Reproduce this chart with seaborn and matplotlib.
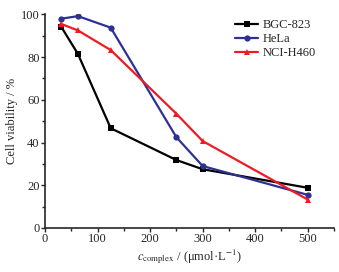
import seaborn as sns
import matplotlib.pyplot as plt
import pandas as pd
from matplotlib.ticker import MultipleLocator

conc = [31.25, 62.5, 125, 250, 300, 500]
bgc = [94.0, 81.5, 46.7, 31.8, 27.5, 18.8]
hela = [98.0, 99.2, 93.8, 42.5, 29.0, 15.5]
nci = [95.5, 92.5, 83.3, 53.5, 40.7, 13.3]
lines = ["BGC-823", "HeLa", "NCI-H460"]

df = pd.DataFrame({
    "conc": conc * 3,
    "viab": bgc + hela + nci,
    "line": [lines[0]] * 6 + [lines[1]] * 6 + [lines[2]] * 6,
})

sns.set_style("ticks")
plt.rcParams['font.family'] = ['Liberation Serif', 'DejaVu Serif']
plt.rcParams['mathtext.fontset'] = 'stix'

fig = plt.figure(figsize=(3.39, 2.72), dpi=100)
ax = fig.add_axes([0.133, 0.162, 0.852, 0.785])

pal = {"BGC-823": "#000000", "HeLa": "#2e3192", "NCI-H460": "#ed1c24"}
mk = {"BGC-823": "s", "HeLa": "o", "NCI-H460": "^"}
sns.lineplot(data=df, x="conc", y="viab", hue="line", style="line",
             palette=pal, markers=mk, dashes=False, markersize=4.5,
             markeredgewidth=0, linewidth=1.6, ax=ax)

ax.set_xlim(0, 550)
ax.set_ylim(0, 100)
ax.xaxis.set_major_locator(MultipleLocator(100))
ax.xaxis.set_minor_locator(MultipleLocator(50))
ax.yaxis.set_major_locator(MultipleLocator(20))
ax.yaxis.set_minor_locator(MultipleLocator(10))
ax.tick_params(which='both', direction='out', width=1, labelsize=9, pad=1)
ax.tick_params(which='major', length=3)
ax.tick_params(which='minor', length=2)
for s in ['left', 'bottom']:
    ax.spines[s].set_linewidth(1.2)
sns.despine(ax=ax)

ax.set_xlabel(r"$c_{\mathrm{complex}}$ / (μmol·L$^{-1}$)", fontsize=9, labelpad=1)
ax.set_ylabel("Cell viability / %", fontsize=9, labelpad=2)

leg = ax.legend(title=None, frameon=False, fontsize=9, loc='upper right',
                bbox_to_anchor=(0.975, 1.03), handlelength=1.9,
                handletextpad=0.3, labelspacing=0.15)

fig.savefig("out.png", dpi=100)
